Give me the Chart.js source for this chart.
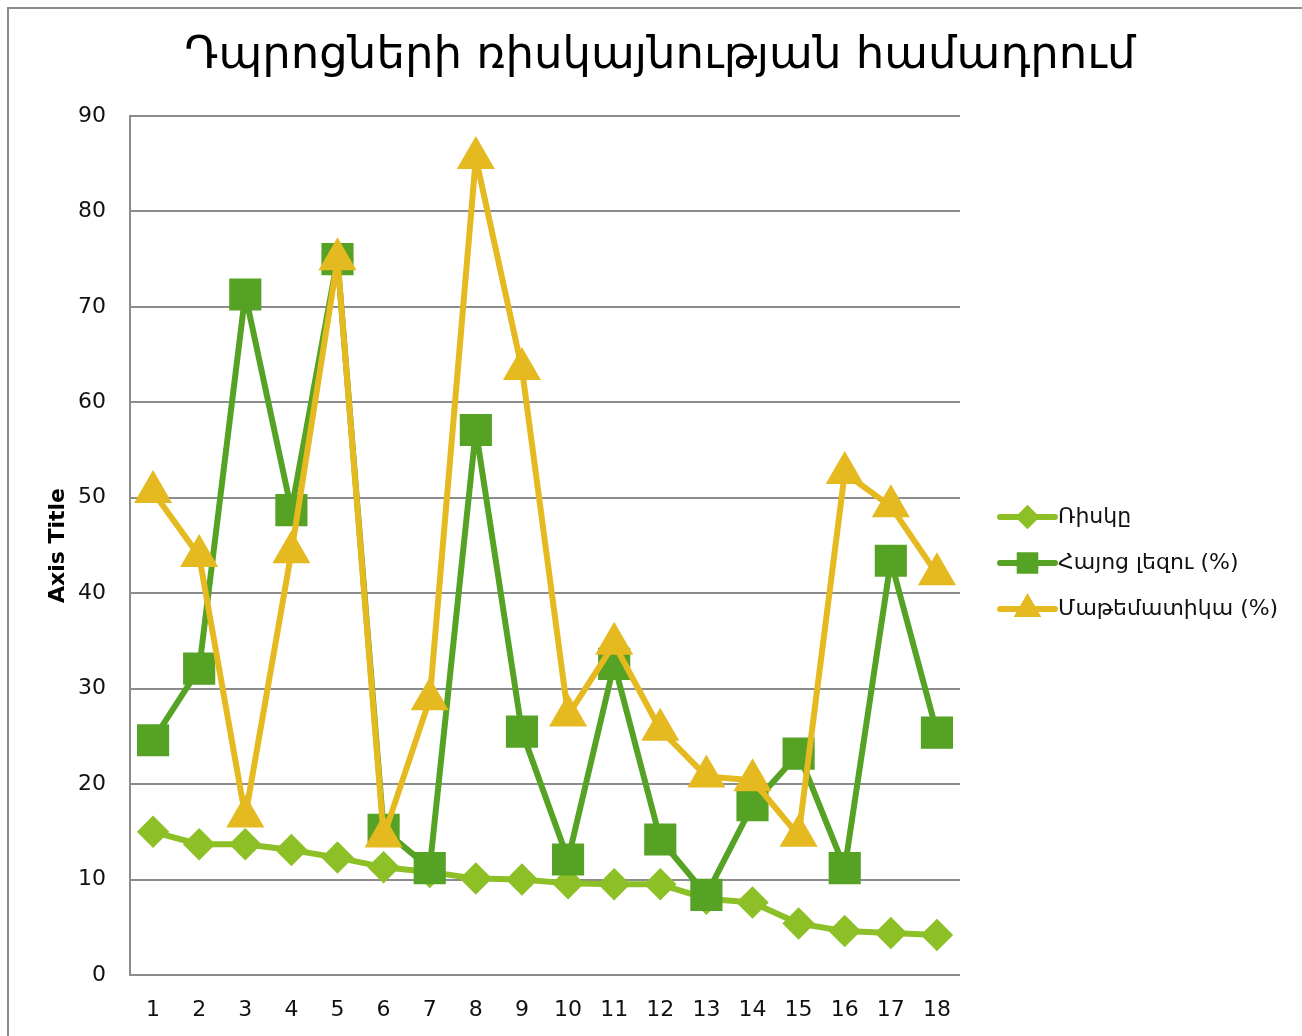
<!DOCTYPE html>
<html>
<head>
<meta charset="utf-8">
<script src="https://cdn.jsdelivr.net/npm/chart.js@4.4.1/dist/chart.umd.min.js"></script>
<style>
  html, body { margin: 0; padding: 0; background: #fff; overflow: hidden; }
  #wrap { position: relative; width: 1302px; height: 1036px; }
  #frame { position: absolute; left: 7px; top: 7px; width: 1320px; height: 1060px; border: 2px solid #8c8c8c; pointer-events: none; }
  canvas { position: absolute; left: 0; top: 0; }
</style>
</head>
<body>
<div id="wrap">
  <canvas id="chart" width="1302" height="1036"></canvas>
  <div id="frame"></div>
</div>
<script>
const categories = ['1', '2', '3', '4', '5', '6', '7', '8', '9', '10', '11', '12', '13', '14', '15', '16', '17', '18'];
const seriesNames = ['Ռիսկը', 'Հայոց լեզու (%)', 'Մաթեմատիկա (%)'];
const riskValues = [15.0, 13.7, 13.7, 13.1, 12.3, 11.3, 10.8, 10.1, 10.0, 9.6, 9.5, 9.5, 8.0, 7.6, 5.4, 4.6, 4.4, 4.2];
const armenianValues = [24.6, 32.1, 71.3, 48.7, 75.0, 15.2, 11.2, 57.1, 25.5, 12.1, 32.6, 14.2, 8.4, 17.8, 23.2, 11.2, 43.4, 25.4];
const mathValues = [50.6, 43.9, 16.6, 44.3, 75.0, 14.5, 28.9, 85.6, 63.5, 27.2, 34.7, 25.7, 20.8, 20.4, 14.6, 52.6, 49.1, 42.0];
const yTicks = [0, 10, 20, 30, 40, 50, 60, 70, 80, 90];
const chartTitle = 'Դպրոցների ռիսկայնության համադրում';

const FONT = "'DejaVu Sans', sans-serif";
const gridColor = '#8c8c8c';

// title over the whole canvas and legend on the right, drawn by hand
const sideLegend = {
  id: 'sideLegend',
  afterDraw(chart) {
    const ctx = chart.ctx;
    ctx.save();
    ctx.fillStyle = '#000';
    ctx.font = '45px ' + FONT;
    ctx.textAlign = 'center';
    ctx.textBaseline = 'middle';
    ctx.fillText(chartTitle, 660, 56);
    ctx.restore();

    const x0 = 1000, x1 = 1055, yStart = 517, gap = 46;
    chart.data.datasets.forEach((ds, i) => {
      const y = yStart + i * gap;
      ctx.save();
      ctx.strokeStyle = ds.borderColor;
      ctx.lineWidth = 6;
      ctx.lineCap = 'round';
      ctx.beginPath();
      ctx.moveTo(x0, y);
      ctx.lineTo(x1, y);
      ctx.stroke();
      Chart.helpers.drawPoint(ctx, {
        pointStyle: ds.pointStyle,
        radius: ds.legendRadius,
        borderWidth: 1
      }, (x0 + x1) / 2, y);
      ctx.fillStyle = ds.backgroundColor;
      ctx.fill();
      ctx.fillStyle = '#111';
      ctx.font = '22px ' + FONT;
      ctx.textBaseline = 'middle';
      ctx.textAlign = 'left';
      ctx.fillText(ds.label, x1 + 3, y);
      ctx.restore();
    });
  }
};

new Chart(document.getElementById('chart'), {
  type: 'line',
  data: {
    labels: categories,
    datasets: [
      { label: seriesNames[0], data: riskValues, borderColor: '#8dc026', backgroundColor: '#8dc026',
        pointStyle: 'rectRot', pointRadius: 12, legendRadius: 8, borderWidth: 6, order: 3 },
      { label: seriesNames[1], data: armenianValues, borderColor: '#55a224', backgroundColor: '#55a224',
        pointStyle: 'rect', pointRadius: 18.5, legendRadius: 11, borderWidth: 6, order: 2 },
      { label: seriesNames[2], data: mathValues, borderColor: '#e5b920', backgroundColor: '#e5b920',
        pointStyle: 'triangle', pointRadius: 16, legendRadius: 10, borderWidth: 6, order: 1 }
    ]
  },
  options: {
    responsive: false,
    animation: false,
    elements: {
      line: { tension: 0, borderJoinStyle: 'round' },
      point: { borderWidth: 1, hoverRadius: 16 }
    },
    layout: { padding: { left: 45, right: 342, top: 116, bottom: 0 } },
    plugins: {
      legend: { display: false },
      tooltip: { enabled: false },
      title: { display: false }
    },
    scales: {
      x: {
        offset: true,
        afterFit(axis) { axis.height = 61; },
        grid: { display: false },
        border: { display: false },
        ticks: { color: '#111', font: { family: FONT, size: 22 }, padding: 14, maxRotation: 0, autoSkip: false }
      },
      y: {
        min: 0,
        max: 90,
        afterBuildTicks(axis) { axis.ticks = yTicks.map(v => ({ value: v })); },
        afterFit(axis) { axis.width = 85; },
        grid: { color: gridColor, lineWidth: 2, drawTicks: false },
        border: { display: true, color: gridColor, width: 2 },
        ticks: { color: '#111', font: { family: FONT, size: 22 }, padding: 24 },
        title: {
          display: true,
          text: 'Axis Title',
          color: '#000',
          font: { family: FONT, size: 22, weight: 'bold' },
          padding: { top: 0, bottom: 0 }
        }
      }
    }
  },
  plugins: [sideLegend]
});
</script>
</body>
</html>
